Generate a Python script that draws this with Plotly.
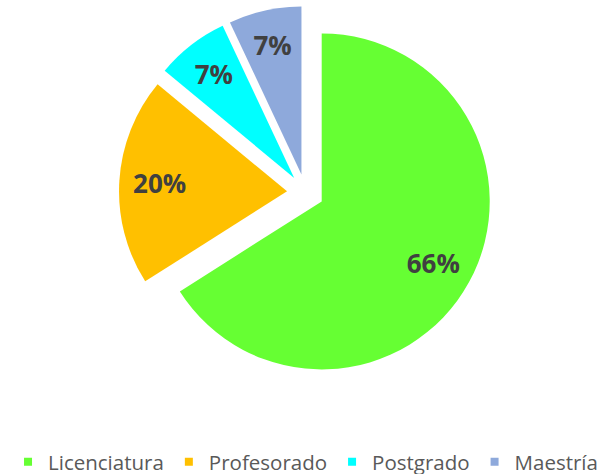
import plotly.graph_objects as go

categories = ["Licenciatura", "Profesorado", "Postgrado", "Maestría"]
values = [66, 20, 7, 7]
colors = ["#66FF33", "#FFC000", "#00FFFF", "#8EA9DB"]

PULL = [0.11, 0.11, 0.11, 0.11]
TEXT_PULL = [0.108, 0.11, 0.069, 0.077]
common = dict(labels=categories, values=values, sort=False, direction="clockwise", rotation=0)

fig = go.Figure()
# legend source (white outline gives small legend squares; hidden under main pie)
fig.add_trace(go.Pie(
    **common, pull=PULL, marker=dict(colors=colors, line=dict(color="white", width=4)),
    textinfo="none", hoverinfo="skip", showlegend=True,
))
# visible slices
fig.add_trace(go.Pie(
    **common, pull=PULL, marker=dict(colors=colors, line=dict(width=0)),
    textinfo="none", hoverinfo="label+percent", showlegend=False,
))
# labels layer
fig.add_trace(go.Pie(
    **common, pull=TEXT_PULL, hole=0.52, showlegend=False,
    marker=dict(colors=["rgba(0,0,0,0)"] * 4, line=dict(width=0)),
    textinfo="percent", textposition="inside",
    textfont=dict(family="Open Sans", size=26, color="#404040", weight="bold"),
    hoverinfo="skip",
))
fig.update_layout(
    width=605, height=474,
    margin=dict(l=6, r=0, t=6, b=95),
    paper_bgcolor="white", plot_bgcolor="white",
    showlegend=True,
    legend=dict(orientation="h", xref="container", x=0.505, xanchor="center", yref="container",
                y=(474 - 462) / 474, yanchor="middle",
                font=dict(family="Open Sans", size=20.5, color="#595959")),
)
fig.write_html("out.html", config={"displayModeBar": False},
               post_script="document.body.style.margin='0';")
